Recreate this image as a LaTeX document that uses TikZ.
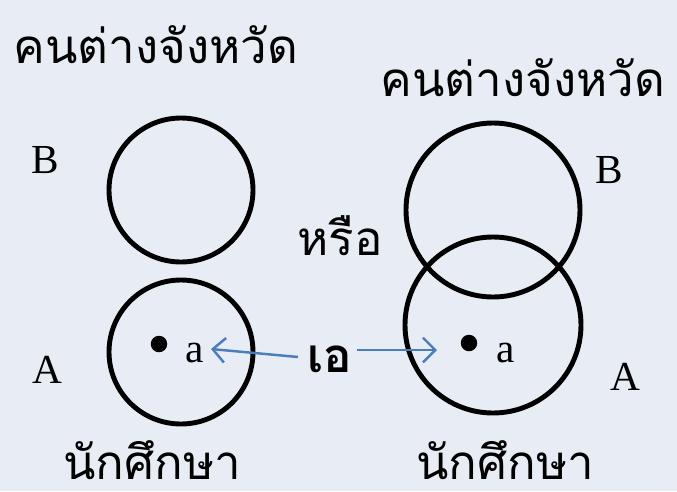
\documentclass[tikz,border=0pt]{standalone}
\usepackage{fontspec}
\setmainfont{Liberation Serif}
\newfontfamily\thaifont[Script=Thai]{Loma}
\usetikzlibrary{arrows.meta}
\definecolor{bg}{HTML}{E8ECF4}
\definecolor{arr}{HTML}{4A7EBB}
\begin{document}
\begin{tikzpicture}[x=0.02cm,y=-0.02cm,
  circ/.style={draw=black,line width=2.8pt,fill=none},
  lbl/.style={font=\fontsize{23.5}{26}\selectfont,inner sep=0pt},
  thai/.style={font=\thaifont\fontsize{27}{30}\selectfont,inner sep=0pt,anchor=base,text depth=0pt},
  conn/.style={draw=arr,line width=1.4pt,-{Straight Barb[length=7pt,width=14pt,line width=1.4pt]}},
  dotn/.style={circle,fill=black,inner sep=0pt,minimum size=0.33cm}]
\fill[bg] (0,0) rectangle (677,491);
\useasboundingbox (0,0) rectangle (677,491);
% titles
\node[thai] (t1) at (156,63) {คนต่างจังหวัด};
\node[thai] (t2) at (523,96) {คนต่างจังหวัด};
\node[thai] (s1) at (152,479) {นักศึกษา};
\node[thai] (s2) at (505,479) {นักศึกษา};
\node[thai] (or) at (340,255) {หรือ};
% left circles
\draw[circ] (181,190) circle (72);
\draw[circ] (181,352) circle (72);
% right circles
\draw[circ] (493,210) circle (87);
\draw[circ] (493,325) circle (88);
% labels
\node[lbl] (B1) at (45,160) {B};
\node[lbl] (A1) at (47,370) {A};
\node[lbl] (B2) at (609,170) {B};
\node[lbl] (A2) at (625,377) {A};
% dots
\node[dotn] (d1) at (159,344) {};
\node[dotn] (d2) at (469,343) {};
\node[lbl] (a1) at (195,353) {a};
\node[lbl] (a2) at (506,353) {a};
% e label
\node[thai,font=\thaifont\bfseries\fontsize{27}{30}\selectfont] (e) at (330,372) {เอ};
\coordinate (e1) at (298,357);
\coordinate (e2) at (357,350);
\coordinate (t1a) at (211,349);
\coordinate (t2a) at (437,350);
\draw[conn] (e1) -- (t1a);
\draw[conn] (e2) -- (t2a);
\end{tikzpicture}
\end{document}
